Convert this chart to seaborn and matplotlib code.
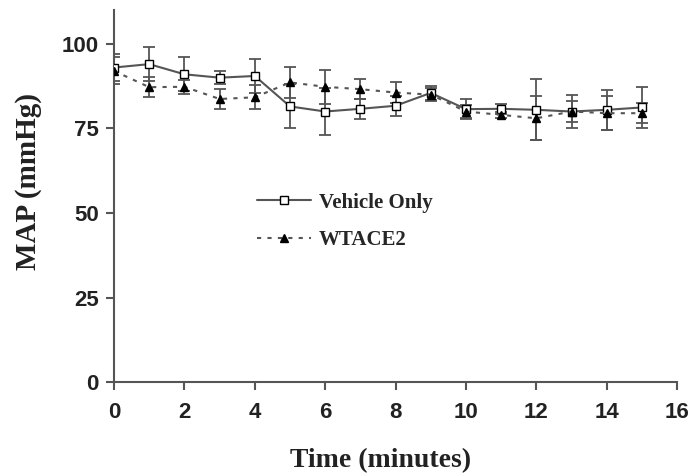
import numpy as np
import pandas as pd
import matplotlib
matplotlib.use('Agg')
import matplotlib.pyplot as plt
import seaborn as sns

# values (mean +/- error, mmHg)
time = list(range(16))
vehicle_mean = [93, 94, 91, 90, 90.5, 81.5, 80, 80.8, 81.7, 85.5, 80.7, 80.8, 80.5, 80, 80.5, 81.2]
vehicle_err = [4, 5, 5, 2, 5, 6.5, 7, 3, 3, 2, 3, 1.5, 9, 5, 6, 6]
wtace2_mean = [92, 87.2, 87.3, 83.7, 84.2, 88.6, 87.3, 86.6, 85.6, 85, 80, 79, 78, 80, 79.5, 79.5]
wtace2_err = [4, 3, 2, 3, 3.5, 4.5, 5, 3, 3, 2, 2, 1, 6.5, 3, 5, 3]

df = pd.DataFrame({
    'Time': time * 2,
    'MAP': vehicle_mean + wtace2_mean,
    'err': vehicle_err + wtace2_err,
    'Group': ['Vehicle Only'] * 16 + ['WTACE2'] * 16,
})

sns.set_style('ticks')
fig = plt.figure(figsize=(6.91, 4.76), dpi=100)
ax = fig.add_axes([0.165, 0.197, 0.815, 0.782])

line_col = '#555555'
styles = {
    'Vehicle Only': dict(marker='s', mfc='white', ls='-'),
    'WTACE2': dict(marker='^', mfc='black', ls=(0, (2, 3))),
}

for name, st in styles.items():
    sub = df[df['Group'] == name]
    ax.errorbar(sub['Time'], sub['MAP'], yerr=sub['err'], fmt='none',
                ecolor=line_col, elinewidth=1.3, capsize=4, capthick=1.3, zorder=2)
    sns.lineplot(x='Time', y='MAP', data=sub, ax=ax, color=line_col,
                 linestyle=st['ls'], linewidth=1.5, marker=st['marker'],
                 markersize=5.5, markerfacecolor=st['mfc'], markeredgecolor='black',
                 markeredgewidth=1, label=name, zorder=3)

ax.set_xlim(0, 16)
ax.set_ylim(0, 110)
ax.set_xticks(range(0, 17, 2))
ax.set_yticks([0, 25, 50, 75, 100])
sns.despine(ax=ax)
for s in ['left', 'bottom']:
    ax.spines[s].set_color(line_col)
    ax.spines[s].set_linewidth(1.5)
ax.tick_params(axis='both', direction='out', length=6, width=1.5, color=line_col,
               labelsize=16)
ax.tick_params(axis='x', pad=8)
ax.tick_params(axis='y', pad=5)
for lab in ax.get_xticklabels() + ax.get_yticklabels():
    lab.set_fontfamily('Liberation Sans')
    lab.set_fontweight('bold')
    lab.set_color('#222222')

ax.set_xlabel('Time (minutes)', fontsize=20, fontfamily='Liberation Serif',
              fontweight='bold', color='#222222')
ax.set_ylabel('MAP (mmHg)', fontsize=21, fontfamily='Liberation Serif',
              fontweight='bold', color='#222222')
ax.xaxis.set_label_coords(0.474, -0.177)
ax.yaxis.set_label_coords(-0.128, 0.54)

leg = ax.legend(loc='upper left', bbox_to_anchor=(0.22, 0.56), frameon=False,
                prop={'family': 'Liberation Serif', 'weight': 'bold', 'size': 15},
                handlelength=2.6, handletextpad=0.4, labelspacing=0.85)

plt.savefig('out.png', dpi=100)
